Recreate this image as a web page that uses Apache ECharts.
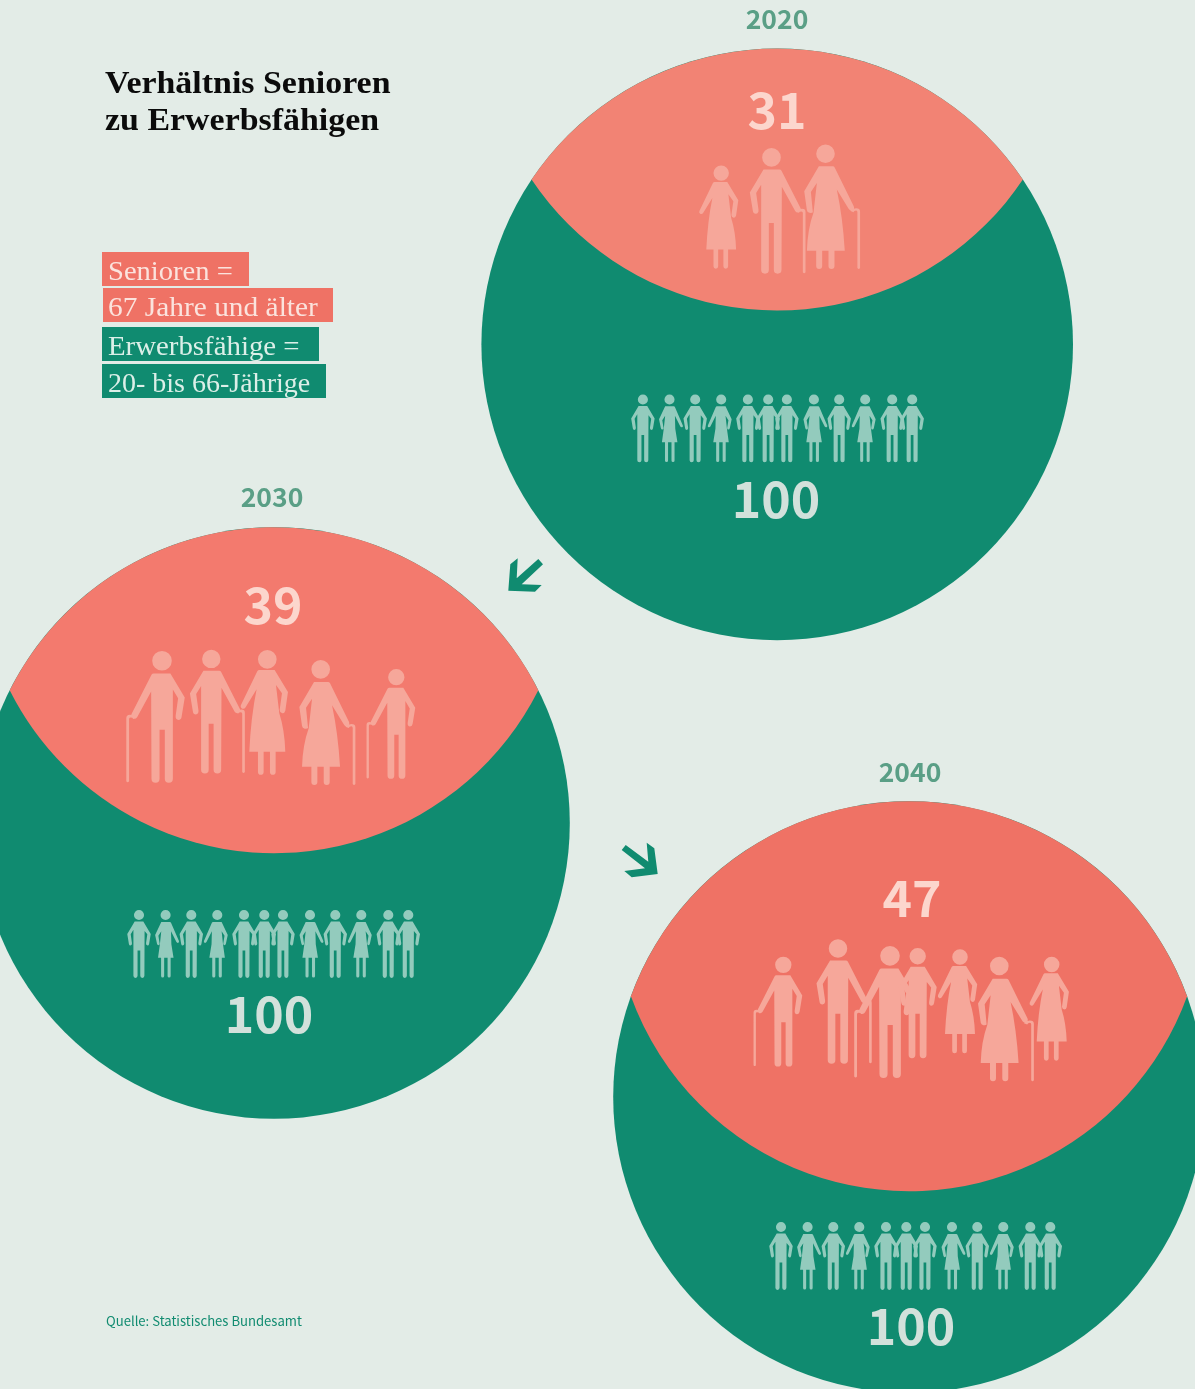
<!DOCTYPE html>
<html><head><meta charset="utf-8">
<style>html,body{margin:0;padding:0;background:#E3ECE7}#c{width:1195px;height:1389px}</style>
<script src="https://cdn.jsdelivr.net/npm/echarts@6/dist/echarts.min.js"></script>
</head><body><div id="c"></div>
<script>
// ---- data
var years = ['2020', '2030', '2040'];
var seniors = [31, 39, 47];
var workers = [100, 100, 100];
var seniorPictos = [['WL', 'MC', 'WC'], ['MCL', 'MC', 'WL', 'WC', 'MCL'], ['MCL', 'MC', 'MCL', 'M', 'WL', 'WC', 'WL']];
var workerPicto = ['M', 'GR', 'M', 'GL', 'M', 'M', 'M', 'GR', 'M', 'GL', 'M', 'M'];
var titleLines = ['Verhältnis Senioren', 'zu Erwerbsfähigen'];
var legendLines = ['Senioren =', '67 Jahre und älter', 'Erwerbsfähige =', '20- bis 66-Jährige'];
var sourceText = 'Quelle: Statistisches Bundesamt';

// ---- layout and style (not data)
var W = 1195, H = 1389;
var centerX = [777.2, 274, 909], centerY = [344.4, 823, 1097];
var rPerWorker = 2.958;
var lensRange = [262, 390], lensDomain = [31, 47];
var pinkFill = ['#F28374', '#F37A6E', '#EF7265'];
var pictoFillPink = ['#F6A79A', '#F6A79A', '#F6A79A'];
var green = '#108B70', bg = '#E3ECE7';
var sansFont = '"Noto Sans CJK SC","Noto Sans",sans-serif';
var serifFont = '"Liberation Serif",serif';
var yearPos = [[777, 19], [272, 497], [910, 772]];
var seniorNumPos = [[777, 110], [273, 605], [912, 898]];
var workerNumPos = [[776, 499], [269, 1014], [911, 1326]];
var seniorPlace = [
  [[-56, -179, 104], [-5.7, -196.3, 125.7], [48.3, -200, 125.3]],
  [[-112, -172, 132], [-62.7, -173.3, 124], [-6.7, -173, 125.7], [46.7, -163, 125.7], [122.3, -154, 110]],
  [[-125.7, -140.3, 110], [-71, -157.7, 124.7], [-19, -151, 132.3], [8.7, -149, 110.3], [51, -147.7, 104.7], [90.3, -140.3, 125.3], [142.7, -140.3, 104.7]]
];
var rowStart = [[-134.3, 50], [-135, 87], [-128, 125]];
var rowOffsets = [0, 26.6, 52.3, 78.3, 105, 125.3, 144, 171, 196.3, 222.3, 249.3, 269.3];
var rowHeight = 68;

// ---- pictogram outlines, unit height 377, head centred on x=0
var HEAD = 'M-28,28a28,28 0 1,0 56,0a28,28 0 1,0 -56,0Z';
var LEGS_MAN = 'L30,365A11.5,11.5 0 0 1 7,365L7,225L-8,225L-8,365A11.5,11.5 0 0 1 -31,365L-31,110';
var MAN_CANE = HEAD + 'M-24,64L24,64Q28,64 30,68L87,180Q90,188 82,193Q75,195 71,189L31,116' + LEGS_MAN + 'L-46,135L-39,185Q-38,196 -47,197Q-55,197 -56,188L-65,133Z' +
  'M74,192Q80,182 92,182Q102,182 102,192L102,372Q98,378 94,372L94,195Q94,190 90,190Q84,190 82,194Z';
var MAN = HEAD + 'M-24,64L24,64L65,133L56,188Q55,197 47,197Q38,196 39,185L46,135L31,116' + LEGS_MAN + 'L-46,135L-39,185Q-38,196 -47,197Q-55,197 -56,188L-65,133Z';
var WOMAN_BODY = HEAD + 'M-20,66L22,66Q26,66 28,70L85,186Q88,194 80,198Q74,200 70,194L34,136Q52,220 58,320L27,320L27,366A9,9 0 0 1 9,366L9,320L-10,320L-10,366A9,9 0 0 1 -28,366L-28,320L-56,320Q-54,255 -36,205L-26,116L-44,143L-38,204Q-40,207 -48,206Q-55,205 -56,198L-64,141Z';
var WOMAN_CANE = WOMAN_BODY + 'M74,200Q80,192 92,192Q104,192 104,202L104,372Q100,378 96,372L96,204Q96,199 92,199Q86,199 84,204Z';
var WOMAN_LOOSE = HEAD + 'M-22,60L24,60Q28,60 30,64L79,165Q82,172 75,176Q69,178 65,172L32,118Q49,200 54,305L28,305L28,366A8.5,8.5 0 0 1 11,366L11,305L-8,305L-8,366A8.5,8.5 0 0 1 -25,366L-25,305L-54,305Q-52,240 -36,190L-26,105L-44,130L-37,180Q-37,188 -45,190Q-52,190 -54,182L-62,126Z';
var GREEN_WOMAN = HEAD + 'M-24,66L24,66Q28,66 30,70L74,172Q76,180 70,182Q64,184 60,178L30,118L32,190L44,265L28,265L28,366A8.5,8.5 0 0 1 11,366L11,265L-8,265L-8,366A8.5,8.5 0 0 1 -25,366L-25,265L-42,265L-32,192L-24,118L-40,143L-33,186Q-33,194 -40,195Q-46,195 -48,186L-58,138Z';
var PICTO = {
  M: [MAN, 1], MC: [MAN_CANE, 1], MCL: [MAN_CANE, -1],
  WC: [WOMAN_CANE, 1], WL: [WOMAN_LOOSE, -1],
  GR: [GREEN_WOMAN, 1], GL: [GREEN_WOMAN, -1]
};

function picto(api, kind, x, top, h, fill) {
  var p = api.coord([x, top]), s = h / 377, def = PICTO[kind];
  return {type: 'group', x: p[0], y: p[1], scaleX: s * def[1], scaleY: s,
    children: [{type: 'path', shape: {pathData: def[0]}, style: {fill: fill}}]};
}

var circleData = years.map(function (y, i) { return [centerX[i], centerY[i], seniors[i], workers[i], i]; });

var chart = echarts.init(document.getElementById('c'), null, {renderer: 'canvas', width: W, height: H});

var legendBoxes = [[102, 252, 147, 34, '#EF7265'], [103, 288, 230, 34, '#EF7265'], [102, 327, 217, 34, green], [102, 364, 224, 34, green]];
var legendInk = ['#FBE3DD', '#FBE3DD', '#DCEFE8', '#DCEFE8'];
var legendStretch = [1.02, 1.05, 1.03, 1.0];
var graphics = [];
titleLines.forEach(function (t, i) {
  graphics.push({type: 'text', x: 105, y: 85 + i * 37, scaleX: 1.06, style: {text: t, fill: '#0B0B0B', font: 'bold 32px ' + serifFont, verticalAlign: 'middle'}});
});
legendLines.forEach(function (t, i) {
  var b = legendBoxes[i];
  graphics.push({type: 'rect', shape: {x: b[0], y: b[1], width: b[2], height: b[3]}, style: {fill: b[4]}});
  graphics.push({type: 'text', x: 108, y: b[1] + 21, scaleX: legendStretch[i], style: {text: t, fill: legendInk[i], font: '28px ' + serifFont, verticalAlign: 'middle'}});
});
graphics.push({type: 'text', x: 106, y: 1321, style: {text: sourceText, fill: green, font: '13.1px ' + sansFont, verticalAlign: 'middle'}});
graphics.push({type: 'polygon', shape: {points: [[508.3, 590.7], [510.3, 564.3], [517.7, 558.3], [516.7, 578.3], [538.3, 559], [543, 564.3], [521.7, 584.3], [541.7, 585], [535, 591.7]]}, style: {fill: green}});
graphics.push({type: 'polygon', shape: {points: [[657.7, 874], [654.3, 848.3], [646.7, 842.7], [648.3, 861.7], [625.7, 845], [621.7, 850], [645, 868.3], [624.3, 871], [631.7, 877.3]]}, style: {fill: green}});

chart.setOption({
  animation: false,
  backgroundColor: bg,
  grid: {left: 0, top: 0, width: W, height: H},
  xAxis: {type: 'value', min: 0, max: W, show: false},
  yAxis: {type: 'value', min: 0, max: H, inverse: true, show: false},
  tooltip: {show: false},
  series: [
    {name: 'Erwerbsfähige', type: 'custom', coordinateSystem: 'cartesian2d', clip: false, z: 2, silent: true,
      data: circleData, encode: {x: 0, y: 1},
      renderItem: function (params, api) {
        var c = api.coord([api.value(0), api.value(1)]);
        var r = api.value(3) * rPerWorker;
        return {type: 'circle', shape: {cx: c[0], cy: c[1], r: r}, style: {fill: green}};
      }},
    {name: 'Senioren', type: 'custom', coordinateSystem: 'cartesian2d', clip: false, z: 3, silent: true,
      data: circleData, encode: {x: 0, y: 1},
      renderItem: function (params, api) {
        var c = api.coord([api.value(0), api.value(1)]);
        var r = api.value(3) * rPerWorker;
        var t = echarts.number.linearMap(api.value(2), lensDomain, lensRange);
        var d = 2 * r - t;                 // distance of the two equal circles
        var yMid = c[1] - d / 2;           // chord height
        var half = Math.sqrt(r * r - d * d / 4);
        var path = 'M' + (c[0] - half) + ',' + yMid + 'A' + r + ',' + r + ' 0 0 1 ' + (c[0] + half) + ',' + yMid +
          'A' + r + ',' + r + ' 0 0 1 ' + (c[0] - half) + ',' + yMid + 'Z';
        return {type: 'path', shape: {pathData: path}, style: {fill: pinkFill[api.value(4)]}};
      }},
    {name: 'Senioren Piktogramme', type: 'custom', coordinateSystem: 'cartesian2d', clip: false, z: 4, silent: true,
      data: circleData, encode: {x: 0, y: 1},
      renderItem: function (params, api) {
        var i = api.value(4), cx = api.value(0), cy = api.value(1);
        return {type: 'group', children: seniorPictos[i].map(function (k, j) {
          var pl = seniorPlace[i][j];
          return picto(api, k, cx + pl[0], cy + pl[1], pl[2], pictoFillPink[i]);
        })};
      }},
    {name: 'Erwerbsfähige Piktogramme', type: 'custom', coordinateSystem: 'cartesian2d', clip: false, z: 4, silent: true,
      data: circleData, encode: {x: 0, y: 1},
      renderItem: function (params, api) {
        var i = api.value(4), cx = api.value(0), cy = api.value(1);
        return {type: 'group', children: workerPicto.map(function (k, j) {
          return picto(api, k, cx + rowStart[i][0] + rowOffsets[j], cy + rowStart[i][1], rowHeight, '#93CBBD');
        })};
      }},
    {name: 'Beschriftung', type: 'custom', coordinateSystem: 'cartesian2d', clip: false, z: 5, silent: true,
      data: circleData, encode: {x: 0, y: 1},
      renderItem: function (params, api) {
        var i = api.value(4);
        var yp = api.coord(yearPos[i]), sp = api.coord(seniorNumPos[i]), wp = api.coord(workerNumPos[i]);
        return {type: 'group', children: [
          {type: 'text', x: yp[0], y: yp[1], style: {text: years[i], fill: '#5A9F86', font: 'bold 26.5px ' + sansFont, align: 'center', verticalAlign: 'middle'}},
          {type: 'text', x: sp[0], y: sp[1], style: {text: String(api.value(2)), fill: '#FCD6CD', font: 'bold 50px ' + sansFont, align: 'center', verticalAlign: 'middle'}},
          {type: 'text', x: wp[0], y: wp[1], style: {text: String(api.value(3)), fill: '#D2E1DB', font: 'bold 50px ' + sansFont, align: 'center', verticalAlign: 'middle'}}
        ]};
      }}
  ],
  graphic: {elements: graphics}
});
</script></body></html>
